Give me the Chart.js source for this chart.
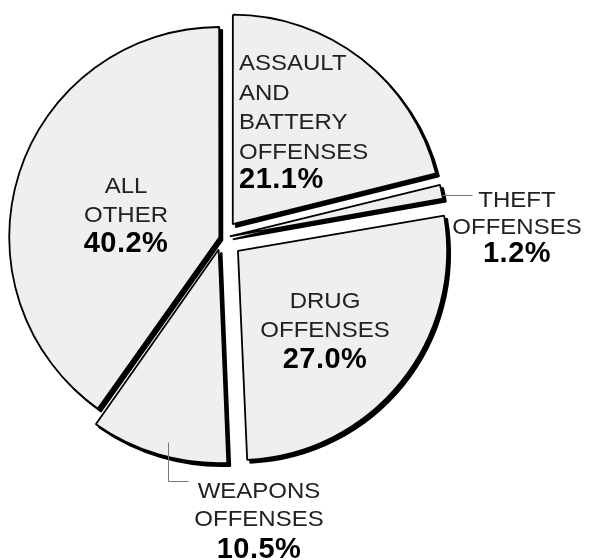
<!DOCTYPE html>
<html><head><meta charset="utf-8">
<script src="https://cdn.jsdelivr.net/npm/chart.js@4.4.1/dist/chart.umd.min.js"></script>
<style>html,body{margin:0;padding:0;background:#fff;}#wrap{width:590px;height:560px;position:relative;}</style>
</head><body><div id="wrap"><canvas id="c" width="590" height="560"></canvas></div>
<script>
// ---- data ----
const categories = ['ASSAULT AND BATTERY OFFENSES', 'THEFT OFFENSES', 'DRUG OFFENSES', 'WEAPONS OFFENSES', 'ALL OTHER'];
const labelLines = [['ASSAULT', 'AND', 'BATTERY', 'OFFENSES'], ['THEFT', 'OFFENSES'], ['DRUG', 'OFFENSES'], ['WEAPONS', 'OFFENSES'], ['ALL', 'OTHER']];
const shares = [21.1, 1.2, 27.0, 10.5, 40.2];
const pctLabels = ['21.1%', '1.2%', '27.0%', '10.5%', '40.2%'];

// ---- styling / placement (kept separate from data) ----
const explode = [70, 32, 82, 48, 11];
const labelPlace = [
  {dx: 17, dy: -168, align: 'left', lh: 29.5, pdy: -50},
  {dx: 295, dy: -31, align: 'center', lh: 26.5, pdy: 24},
  {dx: 103, dy: 70, align: 'center', lh: 29, pdy: 130},
  {dx: 37, dy: 260, align: 'center', lh: 28, pdy: 320},
  {dx: -96, dy: -45, align: 'center', lh: 29, pdy: 14}
];
const leaders = [
  null,
  [[220, -43], [250, -43]],
  null,
  [[-54, 204], [-54, 243], [-34, 243]],
  null
];
const FONT = '"Liberation Sans", Arial, Helvetica, sans-serif';

const shadowPlugin = {
  id: 'dropShadow',
  beforeDatasetsDraw(chart) {
    const ctx = chart.ctx;
    chart.getDatasetMeta(0).data.forEach(el => {
      const saved = el.options;
      el.options = Object.assign({}, saved, {backgroundColor: '#000', borderColor: '#000'});
      ctx.save();
      ctx.translate(3, 3);
      el.draw(ctx);
      ctx.restore();
      el.options = saved;
    });
  }
};

const labelPlugin = {
  id: 'sliceLabels',
  afterDatasetsDraw(chart) {
    const ctx = chart.ctx;
    const arcs = chart.getDatasetMeta(0).data;
    const cx = arcs[0].x, cy = arcs[0].y;
    ctx.save();
    ctx.strokeStyle = '#777';
    ctx.lineWidth = 1;
    leaders.forEach(pts => {
      if (!pts) return;
      ctx.beginPath();
      pts.forEach((p, i) => {
        const x = Math.round(cx + p[0]) + 0.5, y = Math.round(cy + p[1]) + 0.5;
        if (i === 0) ctx.moveTo(x, y); else ctx.lineTo(x, y);
      });
      ctx.stroke();
    });
    ctx.textBaseline = 'alphabetic';
    labelLines.forEach((lines, i) => {
      const p = labelPlace[i];
      const x = cx + p.dx;
      let y = cy + p.dy;
      ctx.textAlign = p.align;
      ctx.fillStyle = '#222';
      ctx.font = '24px ' + FONT;
      lines.forEach(t => {
        ctx.save();
        ctx.translate(x, y);
        ctx.scale(1, 0.9);
        ctx.fillText(t, 0, 0);
        ctx.restore();
        y += p.lh;
      });
      ctx.fillStyle = '#000';
      ctx.font = 'bold 29px ' + FONT;
      ctx.letterSpacing = '0.5px';
      ctx.fillText(pctLabels[i], x, cy + p.pdy);
      ctx.letterSpacing = '0px';
    });
    ctx.restore();
  }
};

new Chart(document.getElementById('c'), {
  type: 'pie',
  data: {
    labels: categories,
    datasets: [{
      data: shares,
      backgroundColor: '#efefef',
      borderColor: '#000',
      borderWidth: 1.8,
      borderJoinStyle: 'bevel',
      offset: explode,
      hoverOffset: 0
    }]
  },
  options: {
    responsive: false,
    animation: false,
    radius: 209,
    layout: {padding: {left: 0, top: 0, right: 146, bottom: 84}},
    events: [],
    plugins: {legend: {display: false}, tooltip: {enabled: false}, title: {display: false}}
  },
  plugins: [shadowPlugin, labelPlugin]
});
</script>
</body></html>
